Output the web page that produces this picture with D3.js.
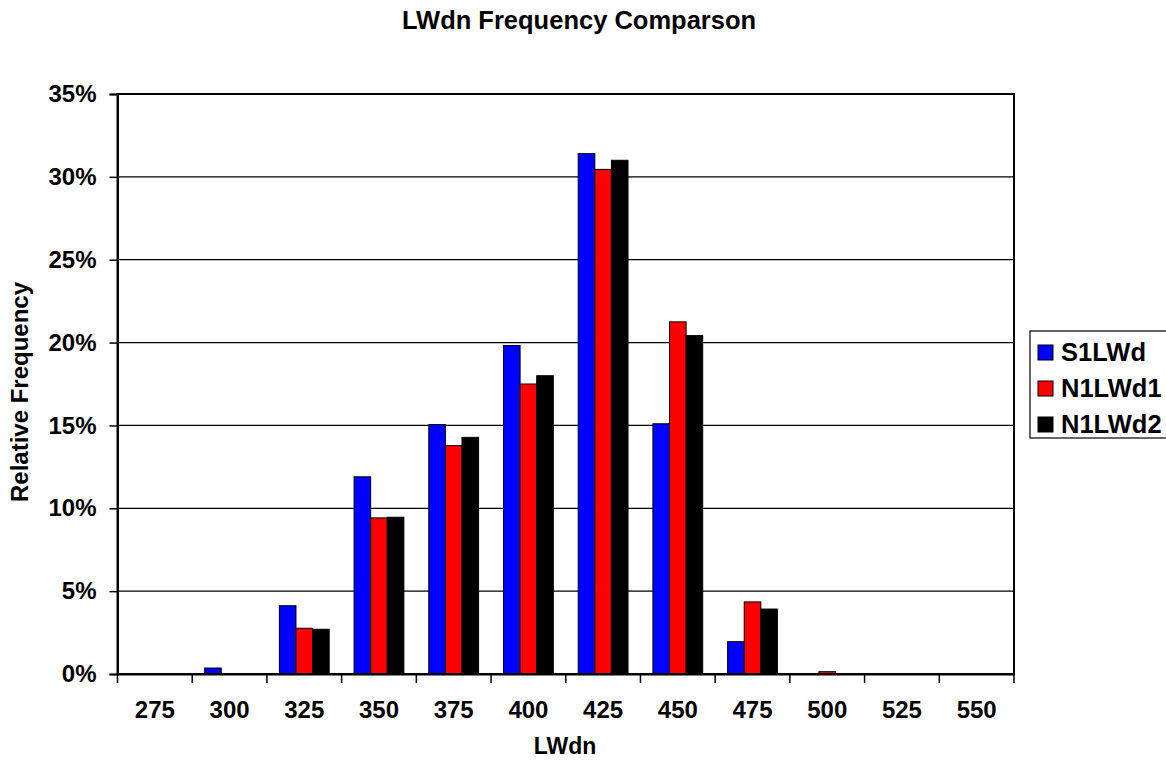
<!DOCTYPE html>
<html>
<head>
<meta charset="utf-8">
<script src="https://cdn.jsdelivr.net/npm/d3@7"></script>
<style>
  html, body { margin: 0; padding: 0; background: #fff; }
  svg { display: block; }
  text { font-family: "Liberation Sans", Arial, sans-serif; font-weight: bold; fill: #000; }
</style>
</head>
<body>
<svg id="chart" width="1166" height="767"></svg>
<script>
// Bin centres along the LWdn axis
const categories = ["275", "300", "325", "350", "375", "400", "425", "450", "475", "500", "525", "550"];

// Relative frequency (%) per bin for each series
const s1LWd  = [0, 0.36, 4.12, 11.9, 15.05, 19.82, 31.4, 15.1, 1.95, 0, 0, 0];
const n1LWd1 = [0, 0, 2.76, 9.42, 13.78, 17.5, 30.45, 21.25, 4.35, 0.14, 0, 0];
const n1LWd2 = [0, 0, 2.7, 9.46, 14.28, 18.0, 31.0, 20.42, 3.92, 0, 0, 0];

const seriesNames = ["S1LWd", "N1LWd1", "N1LWd2"];
const seriesColors = ["#0000FF", "#FF0000", "#000000"];
const yTicks = [0, 5, 10, 15, 20, 25, 30, 35];

const series = [s1LWd, n1LWd1, n1LWd2];

const svg = d3.select("#chart");
const plot = { left: 117.5, right: 1014, top: 94, bottom: 674 };

const x = d3.scaleBand()
  .domain(categories)
  .range([plot.left, plot.right])
  .paddingInner(0)
  .paddingOuter(0);

// Bars take 3 of 4.5 band units (gap width 150%)
const x1 = d3.scaleBand()
  .domain(seriesNames)
  .range([0, x.bandwidth()])
  .paddingOuter(0.75)
  .paddingInner(0);

const y = d3.scaleLinear().domain([0, 35]).range([plot.bottom, plot.top]);

// Horizontal gridlines
svg.append("g")
  .selectAll("line")
  .data(yTicks.filter(t => t > 0 && t < 35))
  .join("line")
  .attr("x1", plot.left).attr("x2", plot.right)
  .attr("y1", d => y(d)).attr("y2", d => y(d))
  .attr("stroke", "#000").attr("stroke-width", 1.2);

// Bars
const groups = svg.append("g")
  .selectAll("g")
  .data(series.map((vals, i) => ({ name: seriesNames[i], color: seriesColors[i], vals })))
  .join("g")
  .attr("fill", d => d.color);

groups.selectAll("rect")
  .data(d => d.vals.map((v, j) => ({ name: d.name, cat: categories[j], v })))
  .join("rect")
  .filter(d => d.v > 0)
  .attr("x", d => x(d.cat) + x1(d.name))
  .attr("width", x1.bandwidth())
  .attr("y", d => y(d.v))
  .attr("height", d => y(0) - y(d.v))
  .attr("stroke", "#000")
  .attr("stroke-width", 1);

// Plot area frame
svg.append("rect")
  .attr("x", plot.left).attr("y", plot.top)
  .attr("width", plot.right - plot.left).attr("height", plot.bottom - plot.top)
  .attr("fill", "none").attr("stroke", "#000").attr("stroke-width", 2);

// Y axis
const yAxis = d3.axisLeft(y)
  .tickValues(yTicks)
  .tickFormat(d => d + "%")
  .tickSize(8)
  .tickPadding(13);
const gy = svg.append("g").attr("transform", `translate(${plot.left},0)`).call(yAxis);
gy.select(".domain").attr("stroke", "#000").attr("stroke-width", 2);
gy.selectAll(".tick line").attr("stroke", "#000").attr("stroke-width", 1.5);
gy.selectAll(".tick text")
  .attr("font-size", 24)
  .attr("font-family", "'Liberation Sans', Arial, sans-serif")
  .attr("font-weight", "bold")
  .attr("fill", "#000");

// X axis: ticks at bin boundaries, labels centred on bins
const xAxis = d3.axisBottom(x).tickSize(0).tickPadding(27);
const gx = svg.append("g").attr("transform", `translate(0,${plot.bottom})`).call(xAxis);
gx.select(".domain").attr("stroke", "#000").attr("stroke-width", 2);
gx.selectAll(".tick text")
  .attr("font-size", 24)
  .attr("font-family", "'Liberation Sans', Arial, sans-serif")
  .attr("font-weight", "bold")
  .attr("fill", "#000");
svg.append("g")
  .selectAll("line")
  .data(d3.range(categories.length + 1))
  .join("line")
  .attr("x1", i => plot.left + i * x.step())
  .attr("x2", i => plot.left + i * x.step())
  .attr("y1", plot.bottom).attr("y2", plot.bottom + 9)
  .attr("stroke", "#000").attr("stroke-width", 1.5);

// Title and axis titles
svg.append("text")
  .attr("x", 579).attr("y", 29)
  .attr("text-anchor", "middle")
  .attr("font-size", 25.5)
  .text("LWdn Frequency Comparson");

svg.append("text")
  .attr("x", 565).attr("y", 754)
  .attr("text-anchor", "middle")
  .attr("font-size", 23)
  .text("LWdn");

svg.append("text")
  .attr("transform", "translate(28,392) rotate(-90)")
  .attr("text-anchor", "middle")
  .attr("font-size", 24)
  .text("Relative Frequency");

// Legend
const legend = svg.append("g").attr("transform", "translate(1030,331)");
legend.append("rect")
  .attr("x", 0).attr("y", 0)
  .attr("width", 140).attr("height", 107)
  .attr("fill", "#fff").attr("stroke", "#000").attr("stroke-width", 1.2);

const items = legend.selectAll("g.item")
  .data(seriesNames.map((n, i) => ({ n, c: seriesColors[i] })))
  .join("g")
  .attr("class", "item")
  .attr("transform", (d, i) => `translate(8,${21 + i * 36})`);
items.append("rect")
  .attr("x", 0).attr("y", -7)
  .attr("width", 15).attr("height", 15)
  .attr("fill", d => d.c).attr("stroke", "#000").attr("stroke-width", 1);
items.append("text")
  .attr("x", 23).attr("y", 9)
  .attr("font-size", 25.5)
  .text(d => d.n);
</script>
</body>
</html>
